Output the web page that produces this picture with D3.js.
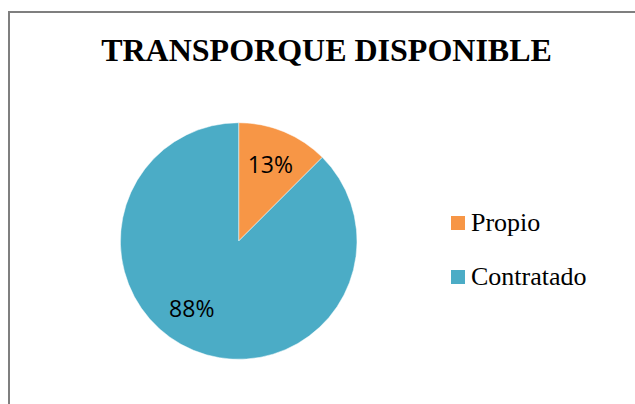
<!DOCTYPE html>
<html>
<head>
<meta charset="utf-8">
<script src="https://cdn.jsdelivr.net/npm/d3@7"></script>
<style>
  body { margin: 0; background: #fff; }
  svg { display: block; }
</style>
</head>
<body>
<svg id="chart" width="635" height="404"></svg>
<script>
// chart data
var categories = ['Propio', 'Contratado'];
var values = [12.5, 87.5];
var colors = ['#f79646', '#4bacc6'];
var title = 'TRANSPORQUE DISPONIBLE';

var svg = d3.select('#chart');

// outer chart border (runs off right / bottom of the view)
svg.append('rect')
  .attr('x', 9)
  .attr('y', 12)
  .attr('width', 700)
  .attr('height', 500)
  .style('fill', 'none')
  .style('stroke', '#7f7f7f')
  .style('stroke-width', 2);

svg.append('text')
  .attr('x', 326.5)
  .attr('y', 61)
  .attr('text-anchor', 'middle')
  .style('font-family', '"Liberation Serif", "Times New Roman", serif')
  .style('font-weight', 'bold')
  .style('font-size', '32px')
  .text(title);

var data = categories.map((c, i) => ({ name: c, value: values[i], color: colors[i] }));
var total = d3.sum(values);

var cx = 238.7, cy = 241, radius = 118.3;

var pie = d3.pie().sort(null).value(d => d.value);
var arc = d3.arc().innerRadius(0).outerRadius(radius);

var g = svg.append('g')
  .attr('transform', `translate(${cx},${cy})`);

var slices = pie(data);

g.selectAll('path')
  .data(slices)
  .enter()
  .append('path')
  .attr('d', arc)
  .style('fill', d => d.data.color)
  .style('stroke', '#fff')
  .style('stroke-width', 0.5);

// excel pushes the big slice label a bit further round; nudge it along the arc
function labelPos(d) {
  var mid = (d.startAngle + d.endAngle) / 2;
  if (d.endAngle - d.startAngle > Math.PI) mid += 0.21;
  var r = radius * 0.7;
  return [Math.sin(mid) * r, -Math.cos(mid) * r];
}

g.selectAll('text')
  .data(slices)
  .enter()
  .append('text')
  .attr('x', d => labelPos(d)[0])
  .attr('y', d => labelPos(d)[1])
  .attr('dy', '0.36em')
  .attr('text-anchor', 'middle')
  .style('font-family', '"Open Sans", "Liberation Sans", sans-serif')
  .style('font-size', '23px')
  .style('fill', '#000')
  .text(d => Math.round(d.data.value / total * 100) + '%');

// legend
var legend = svg.append('g')
  .attr('transform', 'translate(451,216)');

var item = legend.selectAll('g')
  .data(data)
  .enter()
  .append('g')
  .attr('transform', (d, i) => `translate(0,${i * 54})`);

item.append('rect')
  .attr('width', 14)
  .attr('height', 14)
  .style('fill', d => d.color);

item.append('text')
  .attr('x', 20)
  .attr('y', 14.5)
  .style('font-family', '"Liberation Serif", "Times New Roman", serif')
  .style('font-size', '26px')
  .text(d => d.name);
</script>
</body>
</html>
